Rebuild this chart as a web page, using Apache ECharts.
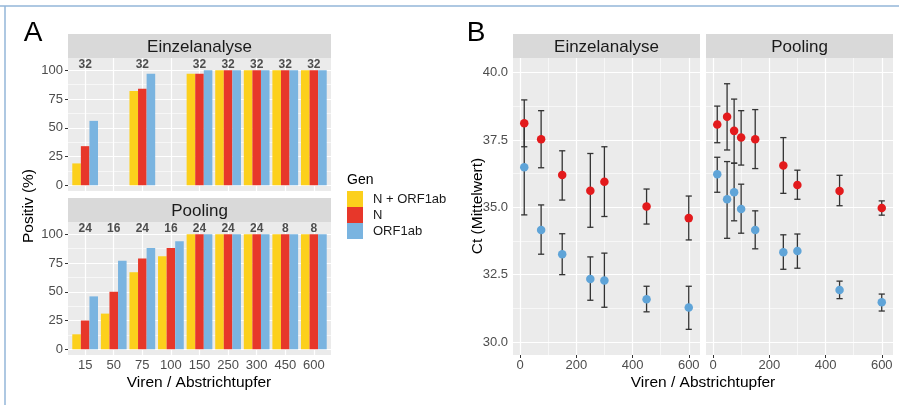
<!DOCTYPE html>
<html><head><meta charset="utf-8">
<script src="https://cdn.jsdelivr.net/npm/echarts@6/dist/echarts.min.js"></script>
<style>html,body{margin:0;padding:0;background:#fff}#c{width:899px;height:405px}</style>
</head><body><div id="c"></div>
<script>
// ---------- Panel A data ----------
const categories = ['15','50','75','100','150','250','300','450','600'];
const geneNames = ['N + ORF1ab','N','ORF1ab'];
const einzelNplusORF = [19, null, 82, null, 97, 100, 100, 100, 100];
const einzelN        = [34, null, 84, null, 97, 100, 100, 100, 100];
const einzelORF      = [56, null, 97, null, 100, 100, 100, 100, 100];
const einzelCounts   = [32, null, 32, null, 32, 32, 32, 32, 32];
const poolNplusORF = [13, 31, 67, 81, 100, 100, 100, 100, 100];
const poolN        = [25, 50, 79, 88, 100, 100, 100, 100, 100];
const poolORF      = [46, 77, 88, 94, 100, 100, 100, 100, 100];
const poolCounts   = [24, 16, 24, 16, 24, 24, 24, 8, 8];
const countLabelY = 105;
const percentTicks = [0, 25, 50, 75, 100];
const percentMinor = [12.5, 37.5, 62.5, 87.5];

// ---------- Panel B data ----------
const einzelViren = [15, 75, 150, 250, 300, 450, 600];
const einzelCtN       = [38.12, 37.53, 36.20, 35.62, 35.95, 35.03, 34.60];
const einzelCtNLow    = [37.25, 36.47, 35.27, 34.26, 34.66, 34.38, 33.79];
const einzelCtNHigh   = [38.99, 38.59, 37.10, 37.00, 37.25, 35.68, 35.42];
const einzelCtORF     = [36.49, 34.16, 33.26, 32.34, 32.28, 31.59, 31.28];
const einzelCtORFLow  = [34.72, 33.26, 32.50, 31.55, 31.29, 31.12, 30.47];
const einzelCtORFHigh = [38.14, 35.09, 34.02, 33.16, 33.30, 32.07, 32.07];
const poolViren = [15, 50, 75, 100, 150, 250, 300, 450, 600];
const poolCtN       = [38.08, 38.36, 37.84, 37.59, 37.53, 36.55, 35.83, 35.61, 34.98];
const poolCtNLow    = [37.40, 37.13, 36.64, 36.57, 36.44, 35.52, 35.30, 35.06, 34.71];
const poolCtNHigh   = [38.76, 39.59, 39.02, 38.59, 38.63, 37.59, 36.38, 36.19, 35.24];
const poolCtORF     = [36.23, 35.30, 35.56, 34.94, 34.16, 33.33, 33.38, 31.93, 31.48];
const poolCtORFLow  = [35.56, 33.85, 34.50, 34.04, 33.46, 32.70, 32.74, 31.61, 31.15];
const poolCtORFHigh = [36.86, 36.70, 36.64, 35.86, 34.87, 33.98, 34.01, 32.26, 31.78];
const ctTicks = [30, 32.5, 35, 37.5, 40];
const ctMinor = [31.25, 33.75, 36.25, 38.75];
const virenTicks = [0, 200, 400, 600];
const virenMinor = [100, 300, 500];

// ---------- styling ----------
const FONT = '"Liberation Sans", Arial, sans-serif';
const barColors = ['#fcd01c', '#e7372a', '#7ab4e0'];
const ptRed = '#e31a1c', ptBlue = '#5fa4d8';
const catPos = categories.map((c, i) => i + 1);

function gridLines(gi, xs, xsMinor, ys, ysMinor) {
  const d = [];
  xsMinor.forEach(v => d.push({xAxis: v, lineStyle: {width: 0.6}}));
  ysMinor.forEach(v => d.push({yAxis: v, lineStyle: {width: 0.6}}));
  xs.forEach(v => d.push({xAxis: v, lineStyle: {width: 1.2}}));
  ys.forEach(v => d.push({yAxis: v, lineStyle: {width: 1.2}}));
  return {type: 'line', xAxisIndex: gi, yAxisIndex: gi, data: [], z: 1, silent: true,
    markLine: {silent: true, z: 1, symbol: ['none', 'none'], label: {show: false},
      lineStyle: {color: '#ffffff', type: 'solid'}, emphasis: {disabled: true}, animation: false, data: d}};
}
function barSeries(gi, name, vals, color) {
  return {type: 'bar', name, xAxisIndex: gi, yAxisIndex: gi, z: 2,
    barCategoryGap: '10%', barGap: '0%', itemStyle: {color},
    data: vals.map((v, i) => v == null ? null : [catPos[i], v]).filter(Boolean)};
}
function countSeries(gi, counts) {
  return {type: 'scatter', xAxisIndex: gi, yAxisIndex: gi, z: 5, symbolSize: 1,
    itemStyle: {color: 'rgba(0,0,0,0)'}, silent: true,
    label: {show: true, position: 'inside', formatter: p => String(p.value[2]),
      fontSize: 12, fontWeight: 'bold', fontFamily: FONT, color: '#262626'},
    data: counts.map((c, i) => c == null ? null : [catPos[i], countLabelY, c]).filter(Boolean)};
}
function errSeries(gi, xs, lo, hi) {
  return {type: 'custom', xAxisIndex: gi, yAxisIndex: gi, z: 3, silent: true,
    encode: {x: 0, y: [1, 2]},
    data: xs.map((x, i) => [x, lo[i], hi[i]]),
    renderItem: (params, api) => {
      const x = api.value(0);
      const a = api.coord([x, api.value(1)]), b = api.coord([x, api.value(2)]);
      const hw = api.size([22, 0])[0] / 2;
      const st = {stroke: '#333333', lineWidth: 1.3};
      return {type: 'group', children: [
        {type: 'line', shape: {x1: a[0], y1: a[1], x2: b[0], y2: b[1]}, style: st},
        {type: 'line', shape: {x1: a[0] - hw, y1: a[1], x2: a[0] + hw, y2: a[1]}, style: st},
        {type: 'line', shape: {x1: b[0] - hw, y1: b[1], x2: b[0] + hw, y2: b[1]}, style: st}
      ]};
    }};
}
function ptSeries(gi, name, xs, vals, color) {
  return {type: 'scatter', name, xAxisIndex: gi, yAxisIndex: gi, z: 4, symbolSize: 8.5,
    itemStyle: {color, opacity: 1}, data: xs.map((x, i) => [x, vals[i]])};
}
const tickLbl = {fontSize: 13, fontFamily: FONT, color: '#4d4d4d'};
function xAxisDef(gi, min, max, ticks, fmt, showLabels) {
  return {type: 'value', gridIndex: gi, min, max,
    axisLine: {show: false}, splitLine: {show: false},
    axisTick: {show: showLabels, length: 3, lineStyle: {color: '#333'}, customValues: ticks},
    axisLabel: Object.assign({show: showLabels, margin: 4, customValues: ticks, formatter: fmt}, tickLbl)};
}
function yAxisDef(gi, min, max, ticks, fmt, showLabels) {
  return {type: 'value', gridIndex: gi, min, max,
    axisLine: {show: false}, splitLine: {show: false},
    axisTick: {show: showLabels, length: 3, lineStyle: {color: '#333'}, customValues: ticks},
    axisLabel: Object.assign({show: showLabels, margin: 5, customValues: ticks, formatter: fmt}, tickLbl)};
}
const catFmt = v => categories[Math.round(v) - 1] || '';
const grids = [
  {left: 68, top: 58, width: 263, height: 133},
  {left: 68, top: 222, width: 263, height: 133},
  {left: 513, top: 58, width: 187, height: 297},
  {left: 706, top: 58, width: 187, height: 297}
].map(g => Object.assign({show: true, backgroundColor: '#ebebeb', borderWidth: 0}, g));

function strip(x, y, w, h, text) {
  return [
    {type: 'rect', shape: {x, y, width: w, height: h}, style: {fill: '#d9d9d9'}, silent: true},
    {type: 'text', x: x + w / 2, y: y + h / 2 + 1, silent: true,
      style: {text, fontSize: 17, fontFamily: FONT, fill: '#1a1a1a', textAlign: 'center', textVerticalAlign: 'middle'}}
  ];
}
function txt(x, y, text, size, extra) {
  return Object.assign({type: 'text', x, y, silent: true,
    style: {text, fontSize: size, fontFamily: FONT, fill: '#000', textAlign: 'center', textVerticalAlign: 'middle'}}, extra || {});
}

const option = {
  animation: false,
  grid: grids,
  xAxis: [
    xAxisDef(0, 0.4, 9.6, catPos, catFmt, false),
    xAxisDef(1, 0.4, 9.6, catPos, catFmt, true),
    xAxisDef(2, -25, 640, virenTicks, v => String(v), true),
    xAxisDef(3, -25, 640, virenTicks, v => String(v), true)
  ],
  yAxis: [
    yAxisDef(0, -5, 110.7, percentTicks, v => String(v), true),
    yAxisDef(1, -5, 110.7, percentTicks, v => String(v), true),
    yAxisDef(2, 29.517, 40.546, ctTicks, v => v.toFixed(1), true),
    yAxisDef(3, 29.517, 40.546, ctTicks, v => v.toFixed(1), false)
  ],
  legend: {data: geneNames, orient: 'vertical', left: 347, top: 191, itemWidth: 16, itemHeight: 16,
    itemGap: 0, icon: 'rect', selectedMode: false, padding: 0,
    textStyle: {fontSize: 13, fontFamily: FONT, color: '#1a1a1a', padding: [0, 0, 0, 5]}},
  series: [
    gridLines(0, catPos, [], percentTicks, percentMinor),
    gridLines(1, catPos, [], percentTicks, percentMinor),
    gridLines(2, virenTicks, virenMinor, ctTicks, ctMinor),
    gridLines(3, virenTicks, virenMinor, ctTicks, ctMinor),
    barSeries(0, geneNames[0], einzelNplusORF, barColors[0]),
    barSeries(0, geneNames[1], einzelN, barColors[1]),
    barSeries(0, geneNames[2], einzelORF, barColors[2]),
    barSeries(1, geneNames[0], poolNplusORF, barColors[0]),
    barSeries(1, geneNames[1], poolN, barColors[1]),
    barSeries(1, geneNames[2], poolORF, barColors[2]),
    countSeries(0, einzelCounts),
    countSeries(1, poolCounts),
    errSeries(2, einzelViren, einzelCtORFLow, einzelCtORFHigh),
    errSeries(2, einzelViren, einzelCtNLow, einzelCtNHigh),
    errSeries(3, poolViren, poolCtORFLow, poolCtORFHigh),
    errSeries(3, poolViren, poolCtNLow, poolCtNHigh),
    ptSeries(2, 'Ct ORF1ab', einzelViren, einzelCtORF, ptBlue),
    ptSeries(2, 'Ct N', einzelViren, einzelCtN, ptRed),
    ptSeries(3, 'Ct ORF1ab', poolViren, poolCtORF, ptBlue),
    ptSeries(3, 'Ct N', poolViren, poolCtN, ptRed)
  ],
  graphic: [].concat(
    [
      {type: 'line', shape: {x1: 0, y1: 6, x2: 899, y2: 6}, style: {stroke: '#93b6d8', lineWidth: 1.5}, silent: true},
      {type: 'line', shape: {x1: 5, y1: 6, x2: 5, y2: 405}, style: {stroke: '#93b6d8', lineWidth: 1.5}, silent: true},
      txt(33, 33, 'A', 28, {}),
      txt(476, 33, 'B', 28, {}),
      txt(199, 383, 'Viren / Abstrichtupfer', 15.5),
      txt(703, 383, 'Viren / Abstrichtupfer', 15.5),
      txt(29, 206, 'Positiv (%)', 15.5, {rotation: Math.PI / 2}),
      txt(478, 206, 'Ct (Mittelwert)', 15.5, {rotation: Math.PI / 2}),
      {type: 'text', x: 347, y: 180, silent: true,
        style: {text: 'Gen', fontSize: 14, fontFamily: FONT, fill: '#000', textAlign: 'left', textVerticalAlign: 'middle'}}
    ],
    strip(68, 34, 263, 24, 'Einzelanalyse'),
    strip(68, 198, 263, 24, 'Pooling'),
    strip(513, 34, 187, 24, 'Einzelanalyse'),
    strip(706, 34, 187, 24, 'Pooling')
  )
};
const chart = echarts.init(document.getElementById('c'), null, {renderer: 'canvas'});
chart.setOption(option);
</script></body></html>
